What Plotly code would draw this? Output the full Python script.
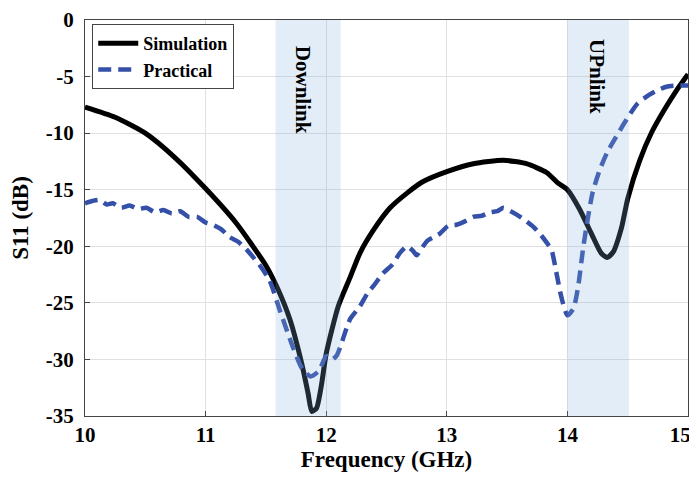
import plotly.graph_objects as go

sim_freq = [10.0, 10.25, 10.5, 10.75, 11.0, 11.25, 11.5, 11.6, 11.7, 11.8, 11.85, 11.88, 11.92,
            11.96, 12.0, 12.1, 12.2, 12.28, 12.39, 12.53, 12.67, 12.8, 13.0, 13.22, 13.47, 13.66,
            13.83, 13.92, 14.0, 14.1, 14.2, 14.28, 14.33, 14.38, 14.45, 14.5, 14.6, 14.7, 14.8,
            14.9, 15.0]
sim_s11 = [-7.7, -8.6, -10.0, -12.2, -14.9, -17.9, -21.7, -23.8, -26.5, -30.5, -33.0, -34.6, -34.3,
           -32.3, -29.5, -25.3, -22.7, -20.6, -18.6, -16.6, -15.3, -14.3, -13.4, -12.7, -12.4, -12.7,
           -13.5, -14.4, -15.0, -16.7, -18.9, -20.6, -21.0, -20.5, -18.3, -15.8, -12.4, -9.9, -8.0,
           -6.3, -4.8]

prac_freq = [10.0, 10.06, 10.12, 10.18, 10.23, 10.3, 10.37, 10.44, 10.51, 10.58, 10.65, 10.72, 10.79,
             10.86, 10.93, 11.0, 11.06, 11.13, 11.2, 11.27, 11.34, 11.45, 11.53, 11.62, 11.72, 11.8,
             11.87, 11.94, 12.0, 12.05, 12.09, 12.17, 12.2, 12.28, 12.34, 12.4, 12.47, 12.55, 12.61,
             12.67, 12.72, 12.75, 12.79, 12.84, 12.89, 12.94, 13.01, 13.08, 13.15, 13.22, 13.29, 13.36,
             13.42, 13.47, 13.53, 13.58, 13.65, 13.72, 13.78, 13.83, 13.87, 13.91, 13.95, 14.0, 14.05,
             14.09, 14.13, 14.17, 14.21, 14.27, 14.33, 14.4, 14.49, 14.58, 14.68, 14.75, 14.82, 14.9,
             15.0]
prac_s11 = [-16.2, -16.0, -15.9, -16.3, -16.2, -16.6, -16.4, -16.7, -16.6, -17.0, -16.8, -17.1, -16.9,
            -17.4, -17.4, -17.9, -18.1, -18.5, -19.2, -19.6, -20.3, -21.7, -23.0, -25.8, -28.8, -30.8,
            -31.5, -31.0, -29.7, -30.0, -29.6, -27.2, -26.4, -25.3, -24.2, -23.4, -22.4, -21.6, -20.6,
            -20.0, -20.4, -20.8, -20.2, -19.5, -19.2, -18.9, -18.2, -18.1, -17.8, -17.4, -17.3, -17.0,
            -16.9, -16.6, -16.9, -17.2, -17.7, -18.3, -19.0, -19.7, -20.4, -22.4, -24.5, -26.1, -25.5,
            -23.5, -20.2, -17.5, -15.2, -13.2, -11.7, -10.4, -8.8, -7.4, -6.6, -6.2, -5.9, -5.8,
            -5.8]

band_names = ["Downlink", "UPnlink"]
band_start = [11.58, 14.0]
band_end = [12.12, 14.51]
band_label_x = [11.81, 14.25]
band_label_y = [-6.2, -5.0]

x_ticks = [10, 11, 12, 13, 14, 15]
x_tick_labels = ["10", "11", "12", "13", "14", "15"]
y_ticks = [0, -5, -10, -15, -20, -25, -30, -35]

font_family = "Liberation Serif"

fig = go.Figure()
fig.add_trace(go.Scatter(x=sim_freq, y=sim_s11, mode="lines", name="<b>Simulation</b>",
                         line=dict(color="black", width=5, shape="spline", smoothing=0.6)))
fig.add_trace(go.Scatter(x=prac_freq, y=prac_s11, mode="lines", name="<b>Practical</b>",
                         line=dict(color="#3550a8", width=4.5, dash="13px,7px", shape="spline",
                                   smoothing=0.6)))

for s, e in zip(band_start, band_end):
    fig.add_vrect(x0=s, x1=e, fillcolor="rgba(135,178,222,0.23)", line_width=0, layer="above")

for name, lx, ly in zip(band_names, band_label_x, band_label_y):
    fig.add_annotation(x=lx, y=ly, text="<b>" + name + "</b>", textangle=90, showarrow=False,
                       font=dict(family=font_family, size=21, color="black"))

axis_common = dict(showgrid=True, gridcolor="#e0e0e0", gridwidth=1, showline=True,
                   linecolor="#444444", linewidth=1, mirror=True, ticks="inside", ticklen=5,
                   tickcolor="#444444", zeroline=False, automargin=False,
                   ticklabeloverflow="allow",
                   tickfont=dict(family=font_family, size=21, color="black"))

# last label padded so that it stays inside the page like in the reference
x_tick_text = ["<b>%s</b>" % t for t in x_tick_labels]
x_tick_text[-1] = x_tick_text[-1] + "&nbsp;&nbsp;&nbsp;"

fig.update_xaxes(range=[10, 15], tickvals=x_ticks, ticktext=x_tick_text,
                 title=dict(text="<b>Frequency (GHz)</b>", font=dict(family=font_family, size=23,
                                                                     color="black"), standoff=2),
                 **axis_common)
fig.update_yaxes(range=[-35, 0], tickvals=y_ticks, ticktext=["<b>%d</b>" % v for v in y_ticks],
                 ticklabelstandoff=6,
                 title=dict(text="<b>S11 (dB)</b>", font=dict(family=font_family, size=23,
                                                              color="black"), standoff=10),
                 **axis_common)

fig.update_layout(
    width=689, height=465,
    margin=dict(l=77, r=9, t=12, b=57),
    plot_bgcolor="white", paper_bgcolor="white",
    legend=dict(x=0.012, y=0.99, xanchor="left", yanchor="top", bgcolor="white",
                bordercolor="#444444", borderwidth=1,
                font=dict(family=font_family, size=18, color="black"),
                tracegroupgap=0, itemwidth=40),
)

fig.write_html("out.html")
